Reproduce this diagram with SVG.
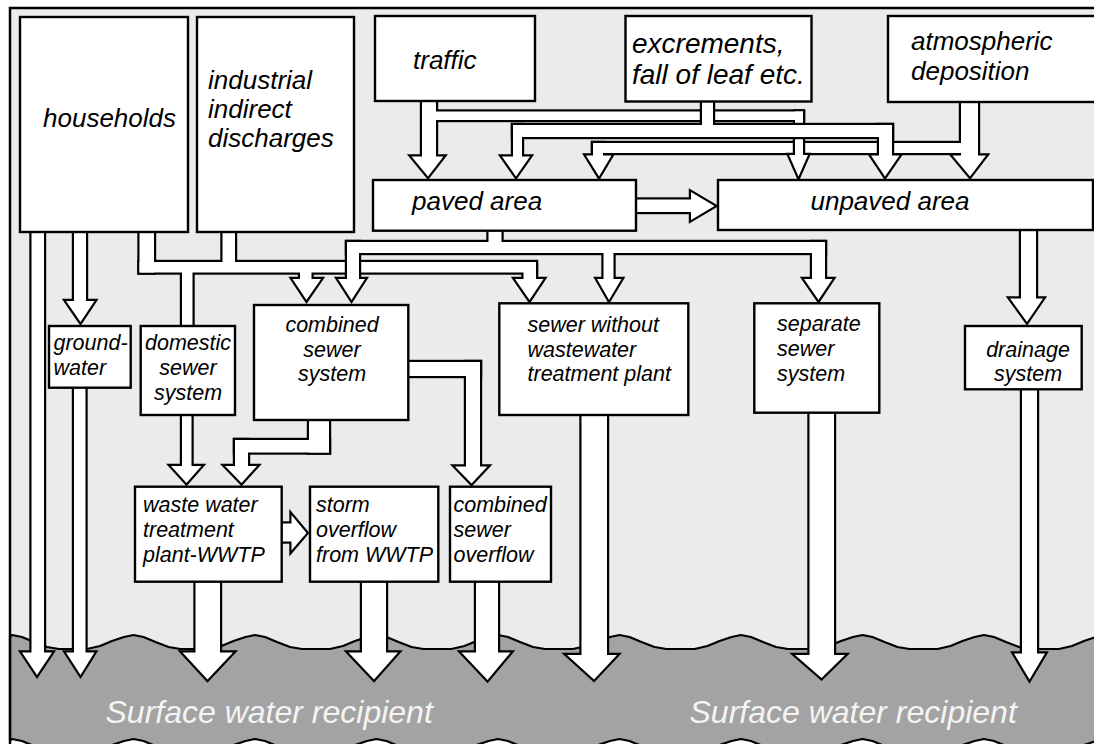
<svg xmlns="http://www.w3.org/2000/svg" xmlns:xlink="http://www.w3.org/1999/xlink" width="1094" height="744" viewBox="0 0 1094 744">
<style>
.bg{fill:#ebebeb}
.box{fill:#fff;stroke:#000;stroke-width:2.4}
.ol{fill:#000;stroke:#000;stroke-width:4.4;stroke-linejoin:miter}
.fl{fill:#fff;stroke:none}
.t{font-family:"Liberation Sans",Arial,sans-serif;font-style:italic;fill:#000}
.big{font-size:26px}
.ex{font-size:28px}
.sm{font-size:21.5px}
.wt{font-family:"Liberation Sans",Arial,sans-serif;font-style:italic;font-size:32px;fill:#f4f4f4}
.mid{text-anchor:middle}
.water{fill:#a3a3a3;stroke:#000;stroke-width:2.2;stroke-linejoin:round}
</style>
<defs>
<g id="t-water">
<rect x="31.5" y="228" width="12.5" height="425"/>
<polygon points="22,652.5 52,652.5 37,675"/>
<rect x="74" y="384" width="11.5" height="269"/>
<polygon points="66,652.5 94.5,652.5 80.5,675"/>
<rect x="195.5" y="578" width="24.5" height="75"/>
<polygon points="182.5,652.5 233,652.5 207.5,679.5"/>
<rect x="362" y="578" width="24" height="75"/>
<polygon points="348.5,652.5 398,652.5 374,679.5"/>
<rect x="476" y="578" width="22" height="75"/>
<polygon points="461.5,652.5 510.5,652.5 487.5,680"/>
<rect x="581.5" y="411" width="25.5" height="245"/>
<polygon points="567,655 617,655 594,679.5"/>
<rect x="809.5" y="409" width="24.5" height="247"/>
<polygon points="795,655 845,655 821.5,678"/>
<rect x="1022" y="385" width="15" height="269"/>
<polygon points="1014,653.5 1045,653.5 1029.5,679.5"/>
</g>
<g id="t-atm">
<rect x="961" y="98" width="17" height="58"/>
<rect x="593" y="143" width="372" height="10"/>
<rect x="593" y="143" width="10" height="13"/>
<polygon points="586,155.5 611.5,155.5 599,176.5"/>
<polygon points="952.5,155.5 986,155.5 970,176.5"/>
</g>
<g id="t-traffic">
<rect x="422" y="97" width="14" height="60"/>
<polygon points="411.5,156.5 443.5,156.5 428,176.5"/>
<rect x="430" y="111.5" width="373" height="8.5"/>
<rect x="795" y="111.5" width="8" height="44"/>
<polygon points="789,155 808,155 798.5,176.5"/>
</g>
<g id="t-excr">
<rect x="702" y="97" width="11" height="34"/>
<rect x="513" y="125" width="379" height="12"/>
<rect x="513" y="125" width="9" height="32"/>
<polygon points="502,156.5 530,156.5 516,176.5"/>
<rect x="879" y="125" width="13" height="31"/>
<polygon points="871,155.5 899.5,155.5 885,176.5"/>
</g>
<g id="t-house">
<rect x="139.5" y="228" width="14.5" height="44.5"/>
<rect x="222.5" y="228" width="12.5" height="36"/>
<rect x="139.5" y="262" width="396.5" height="10.5"/>
<rect x="182" y="270" width="10.5" height="60"/>
<rect x="300" y="270" width="11.5" height="10"/>
<polygon points="292.5,279 321,279 306.5,300"/>
<rect x="523.5" y="265" width="12.5" height="15"/>
<polygon points="515,279 543.5,279 529.5,300"/>
</g>
<g id="t-paved">
<rect x="488.5" y="226" width="13" height="22"/>
<rect x="347" y="242" width="478" height="11"/>
<rect x="347" y="242" width="12" height="38"/>
<polygon points="338,279 365,279 351.5,300"/>
<rect x="603.5" y="248" width="10" height="32"/>
<polygon points="597,279 621.5,279 609,300"/>
<rect x="812" y="242" width="13" height="38"/>
<polygon points="804,279 832.5,279 818.5,300"/>
</g>
<g id="t-misc">
<rect x="74" y="228" width="12" height="74"/>
<polygon points="66,301 94.5,301 80.5,322"/>
<rect x="1021" y="226" width="15" height="73"/>
<polygon points="1010,298.5 1043,298.5 1027,322"/>
<rect x="632" y="199.5" width="60" height="12.5"/>
<polygon points="691,192 691,220 714.5,206"/>
<rect x="309" y="416" width="20" height="36.5"/>
<rect x="235" y="440" width="94" height="12.5"/>
<rect x="235" y="440" width="13" height="27"/>
<polygon points="225,466 257,466 241.5,483"/>
<rect x="404" y="362" width="76" height="14"/>
<rect x="466" y="362" width="14" height="105.5"/>
<polygon points="455,466.5 487.5,466.5 471.5,483.5"/>
<rect x="182" y="411" width="9.5" height="56"/>
<polygon points="171,466 201.5,466 186.5,483"/>
<rect x="278" y="523.5" width="14" height="18"/>
<polygon points="291.5,515 291.5,550.5 306.5,533"/>
</g>
</defs>

<rect class="bg" x="10" y="8" width="1100" height="800"/>
<rect x="10" y="700" width="1100" height="60" fill="#fff"/>
<path class="water" d="M10,636.5 L12,635 L22,637 L34,642 L47,647 L59,649 L87,649 L100,646 L112,641 L124,637 L133.5,635 L143.5,637 L155.5,642 L168.5,647 L180.5,649 L208.5,649 L221.5,646 L233.5,641 L245.5,637 L255,635 L265,637 L277,642 L290,647 L302,649 L330,649 L343,646 L355,641 L367,637 L376.5,635 L386.5,637 L398.5,642 L411.5,647 L423.5,649 L451.5,649 L464.5,646 L476.5,641 L488.5,637 L498,635 L508,637 L520,642 L533,647 L545,649 L573,649 L586,646 L598,641 L610,637 L619.5,635 L629.5,637 L641.5,642 L654.5,647 L666.5,649 L694.5,649 L707.5,646 L719.5,641 L731.5,637 L741,635 L751,637 L763,642 L776,647 L788,649 L816,649 L829,646 L841,641 L853,637 L862.5,635 L872.5,637 L884.5,642 L897.5,647 L909.5,649 L937.5,649 L950.5,646 L962.5,641 L974.5,637 L984,635 L994,637 L1006,642 L1019,647 L1031,649 L1059,649 L1072,646 L1084,641 L1096,637 L1105.5,635 L1110,636 L1110,740 L1105.5,739 L1096,741 L1084,745 L1072,750 L1059,753 L1031,753 L1019,751 L1006,746 L994,741 L984,739 L974.5,741 L962.5,745 L950.5,750 L937.5,753 L909.5,753 L897.5,751 L884.5,746 L872.5,741 L862.5,739 L853,741 L841,745 L829,750 L816,753 L788,753 L776,751 L763,746 L751,741 L741,739 L731.5,741 L719.5,745 L707.5,750 L694.5,753 L666.5,753 L654.5,751 L641.5,746 L629.5,741 L619.5,739 L610,741 L598,745 L586,750 L573,753 L545,753 L533,751 L520,746 L508,741 L498,739 L488.5,741 L476.5,745 L464.5,750 L451.5,753 L423.5,753 L411.5,751 L398.5,746 L386.5,741 L376.5,739 L367,741 L355,745 L343,750 L330,753 L302,753 L290,751 L277,746 L265,741 L255,739 L245.5,741 L233.5,745 L221.5,750 L208.5,753 L180.5,753 L168.5,751 L155.5,746 L143.5,741 L133.5,739 L124,741 L112,745 L100,750 L87,753 L59,753 L47,751 L34,746 L22,741 L12,739 L10,740.5 Z"/>
<text class="wt" x="105.5" y="722.5">Surface water recipient</text>
<text class="wt" x="689.5" y="722.5">Surface water recipient</text>

<g id="connectors">
<use href="#t-water" xlink:href="#t-water" class="ol"/><use href="#t-water" xlink:href="#t-water" class="fl"/>
<use href="#t-atm" xlink:href="#t-atm" class="ol"/><use href="#t-atm" xlink:href="#t-atm" class="fl"/>
<use href="#t-traffic" xlink:href="#t-traffic" class="ol"/><use href="#t-traffic" xlink:href="#t-traffic" class="fl"/>
<use href="#t-excr" xlink:href="#t-excr" class="ol"/><use href="#t-excr" xlink:href="#t-excr" class="fl"/>
<use href="#t-house" xlink:href="#t-house" class="ol"/><use href="#t-house" xlink:href="#t-house" class="fl"/>
<use href="#t-paved" xlink:href="#t-paved" class="ol"/><use href="#t-paved" xlink:href="#t-paved" class="fl"/>
<use href="#t-misc" xlink:href="#t-misc" class="ol"/><use href="#t-misc" xlink:href="#t-misc" class="fl"/>
</g>

<g id="households"><rect class="box" x="20" y="17" width="168" height="215"/><text class="t big" x="43" y="127">households</text></g>
<g id="industrial"><rect class="box" x="197" y="17" width="157" height="215"/><text class="t big"><tspan x="208" y="89">industrial</tspan><tspan x="208" y="118">indirect</tspan><tspan x="208" y="147">discharges</tspan></text></g>
<g id="traffic"><rect class="box" x="375" y="16" width="160" height="85"/><text class="t big" x="413" y="69">traffic</text></g>
<g id="excrements"><rect class="box" x="625.5" y="16" width="186" height="85.5"/><text class="t ex"><tspan x="632" y="53">excrements,</tspan><tspan x="632" y="84">fall of leaf etc.</tspan></text></g>
<g id="atmospheric"><rect class="box" x="888" y="16" width="222" height="86"/><text class="t big"><tspan x="911" y="50">atmospheric</tspan><tspan x="911" y="80">deposition</tspan></text></g>
<g id="paved"><rect class="box" x="373" y="180" width="263" height="50.7"/><text class="t big" x="412" y="210">paved area</text></g>
<g id="unpaved"><rect class="box" x="718" y="180" width="375" height="50"/><text class="t big mid" x="890" y="210">unpaved area</text></g>
<g id="groundwater"><rect class="box" x="49" y="326" width="81.7" height="61.7"/><text class="t sm"><tspan x="53.5" y="350">ground-</tspan><tspan x="53.5" y="375">water</tspan></text></g>
<g id="domestic"><rect class="box" x="140.7" y="326" width="94.3" height="89"/><text class="t sm mid"><tspan x="188" y="350">domestic</tspan><tspan x="188" y="375">sewer</tspan><tspan x="188" y="400">system</tspan></text></g>
<g id="combined"><rect class="box" x="254" y="305" width="154.3" height="115"/><text class="t sm mid"><tspan x="332" y="332">combined</tspan><tspan x="332" y="357">sewer</tspan><tspan x="332" y="381">system</tspan></text></g>
<g id="sewer-without"><rect class="box" x="499.3" y="303.3" width="189" height="111.7"/><text class="t sm"><tspan x="527.5" y="332">sewer without</tspan><tspan x="527.5" y="357">wastewater</tspan><tspan x="527.5" y="381">treatment plant</tspan></text></g>
<g id="separate"><rect class="box" x="754.3" y="303.3" width="125" height="109.4"/><text class="t sm"><tspan x="777" y="331">separate</tspan><tspan x="777" y="356">sewer</tspan><tspan x="777" y="381">system</tspan></text></g>
<g id="drainage"><rect class="box" x="965" y="326" width="116.7" height="63.3"/><text class="t sm mid"><tspan x="1028" y="357">drainage</tspan><tspan x="1028" y="381">system</tspan></text></g>
<g id="wwtp"><rect class="box" x="135" y="486.7" width="146.7" height="95"/><text class="t sm"><tspan x="143" y="512">waste water</tspan><tspan x="143" y="537">treatment</tspan><tspan x="143" y="562">plant-WWTP</tspan></text></g>
<g id="storm"><rect class="box" x="310" y="486.7" width="128.3" height="95"/><text class="t sm"><tspan x="316" y="512">storm</tspan><tspan x="316" y="537">overflow</tspan><tspan x="316" y="562">from WWTP</tspan></text></g>
<g id="cso"><rect class="box" x="450" y="486.7" width="101" height="95"/><text class="t sm"><tspan x="453.5" y="512">combined</tspan><tspan x="453.5" y="537">sewer</tspan><tspan x="453.5" y="562">overflow</tspan></text></g>

<rect x="10" y="8" width="1100" height="800" fill="none" stroke="#000" stroke-width="2.5"/>
</svg>
